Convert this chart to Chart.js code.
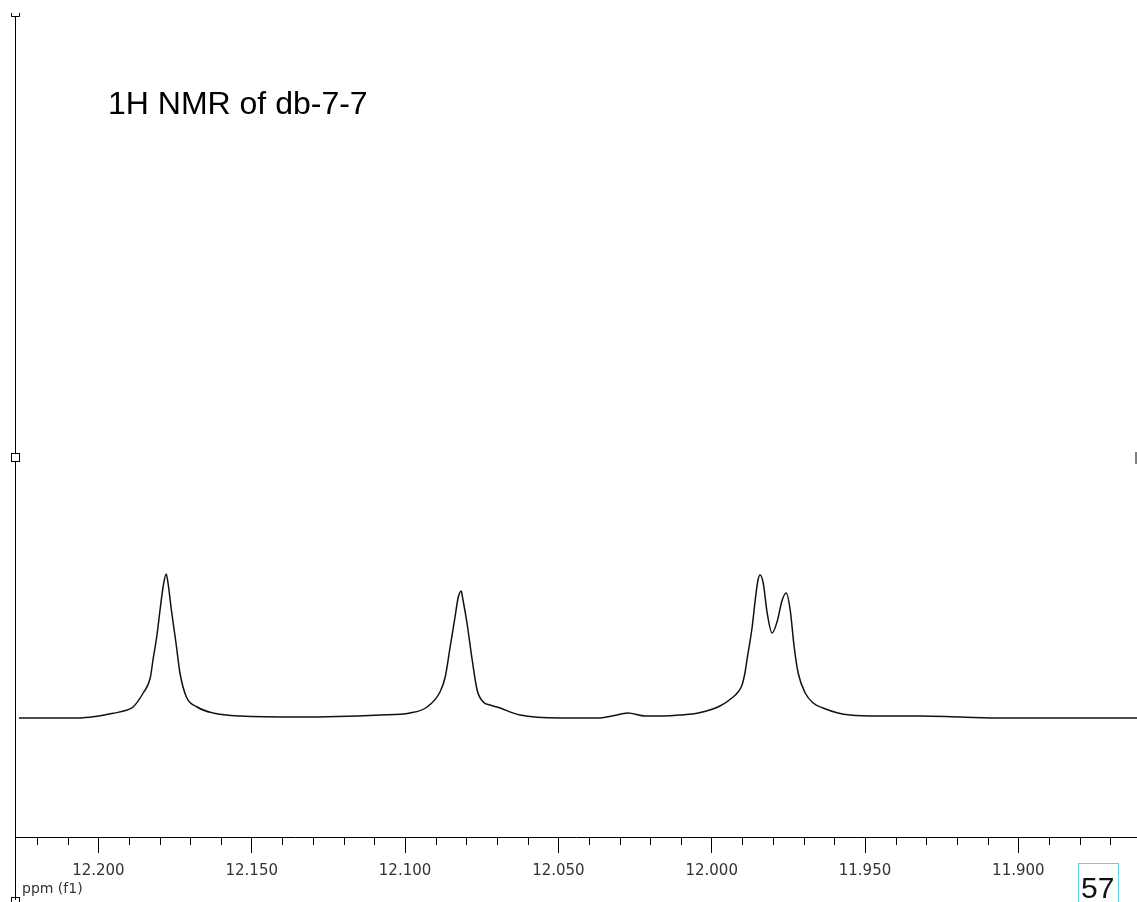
<!DOCTYPE html>
<html lang="en">
<head>
<meta charset="UTF-8">
<title>1H NMR of db-7-7</title>
<script src="https://cdn.jsdelivr.net/npm/chart.js"></script>
<style>
  html, body { margin: 0; padding: 0; background: #fff; }
  #wrap { position: relative; width: 1137px; height: 902px; overflow: hidden; }
</style>
</head>
<body>
<div id="wrap">
  <canvas id="nmrChart" width="1137" height="902"></canvas>
</div>
<script>
// chemical shift (ppm) left to right
const ppm = [
  12.2259, 12.2066, 12.2011, 12.1952, 12.1906, 12.1887, 12.1854, 12.1831, 12.1822, 12.1809,
  12.1799, 12.1789, 12.1779, 12.1773, 12.1762, 12.1747, 12.1734, 12.1713, 12.1678, 12.1626,
  12.1538, 12.1342, 12.1081, 12.0984, 12.0928, 12.0886, 12.0869, 12.0853, 12.0837, 12.0827,
  12.0817, 12.0811, 12.0798, 12.0781, 12.0765, 12.0745, 12.0723, 12.0700, 12.0625, 12.0494,
  12.0370, 12.0325, 12.0273, 12.0217, 12.0158, 12.0103, 12.0044, 11.9973, 11.9930, 11.9914,
  11.9901, 11.9891, 11.9885, 11.9868, 11.9858, 11.9849, 11.9842, 11.9832, 11.9819, 11.9803,
  11.9787, 11.9770, 11.9757, 11.9744, 11.9731, 11.9718, 11.9695, 11.9669, 11.9637, 11.9588,
  11.9549, 11.9451, 11.9320, 11.9190, 11.9050, 11.8613
];
// intensity (arbitrary units, baseline = 0)
const intensity = [
  0.00, 0.00, 0.015, 0.047, 0.08, 0.11, 0.25, 0.40, 0.58, 0.83,
  1.08, 1.31, 1.44, 1.35, 1.08, 0.75, 0.45, 0.21, 0.11, 0.05,
  0.02, 0.01, 0.03, 0.05, 0.11, 0.26, 0.41, 0.71, 1.01, 1.20,
  1.27, 1.18, 0.95, 0.58, 0.28, 0.16, 0.13, 0.11, 0.03, 0.00,
  0.00, 0.02, 0.05, 0.02, 0.02, 0.03, 0.05, 0.12, 0.21, 0.26,
  0.33, 0.46, 0.58, 0.91, 1.18, 1.38, 1.43, 1.35, 1.05, 0.85,
  0.96, 1.18, 1.25, 1.08, 0.71, 0.45, 0.25, 0.15, 0.10, 0.05,
  0.03, 0.02, 0.02, 0.01, 0.00, 0.00
];
const majorTicks = [12.200, 12.150, 12.100, 12.050, 12.000, 11.950, 11.900];
const minorTicks = [
  12.220, 12.210, 12.190, 12.180, 12.170, 12.160, 12.140, 12.130, 12.120, 12.110,
  12.090, 12.080, 12.070, 12.060, 12.040, 12.030, 12.020, 12.010, 11.990, 11.980,
  11.970, 11.960, 11.940, 11.930, 11.920, 11.910, 11.890, 11.880, 11.870
];
const titleText = '1H NMR of db-7-7';
const axisLabel = 'ppm (f1)';
const pageNo = '57';

const points = ppm.map((v, i) => ({ x: v, y: intensity[i] }));

// frame decorations + minor ticks + texts
const nmrDecor = {
  id: 'nmrDecor',
  afterDraw(chart) {
    const ctx = chart.ctx;
    const xs = chart.scales.x;
    const bottom = chart.chartArea.bottom;
    ctx.save();
    ctx.strokeStyle = '#000';
    ctx.lineWidth = 1;

    // minor ticks
    ctx.beginPath();
    minorTicks.forEach(v => {
      const px = Math.round(xs.getPixelForValue(v)) + 0.5;
      ctx.moveTo(px, bottom);
      ctx.lineTo(px, bottom + 8);
    });
    ctx.stroke();

    // left intensity bar
    const lx = 15.5;
    ctx.beginPath();
    ctx.moveTo(lx, 16);
    ctx.lineTo(lx, 900);
    // top cap
    ctx.moveTo(11.5, 13);
    ctx.lineTo(11.5, 16.5);
    ctx.lineTo(19.5, 16.5);
    ctx.lineTo(19.5, 13);
    ctx.stroke();
    ctx.fillStyle = '#fff';
    ctx.fillRect(11.5, 453.5, 8, 8);
    ctx.strokeRect(11.5, 453.5, 8, 8);
    ctx.strokeRect(11.5, 897.5, 8, 8);

    // right edge marker
    ctx.beginPath();
    ctx.moveTo(1136, 452);
    ctx.lineTo(1136, 464);
    ctx.stroke();

    // title
    ctx.fillStyle = '#000';
    ctx.font = '32px "Liberation Sans", Arial, sans-serif';
    ctx.textBaseline = 'alphabetic';
    ctx.textAlign = 'left';
    ctx.fillText(titleText, 108, 114);

    // axis unit label
    ctx.fillStyle = '#333';
    ctx.font = '14px "DejaVu Sans", sans-serif';
    ctx.fillText(axisLabel, 22, 893);

    // page number box
    ctx.strokeStyle = '#5fd3e6';
    ctx.strokeRect(1078.5, 863.5, 40, 42);
    ctx.fillStyle = '#111';
    ctx.font = '30px "Liberation Sans", Arial, sans-serif';
    ctx.fillText(pageNo, 1081, 898);
    ctx.restore();
  }
};

new Chart(document.getElementById('nmrChart'), {
  type: 'line',
  data: {
    datasets: [{
      data: points,
      borderColor: '#111',
      borderWidth: 1.5,
      pointRadius: 0,
      fill: false,
      cubicInterpolationMode: 'monotone'
    }]
  },
  options: {
    responsive: false,
    animation: false,
    layout: { padding: { left: 15, right: 0, top: 15, bottom: 13 } },
    plugins: {
      legend: { display: false },
      tooltip: { enabled: false },
      title: { display: false }
    },
    scales: {
      x: {
        type: 'linear',
        reverse: true,
        min: 11.8613,
        max: 12.2272,
        afterBuildTicks: scale => {
          scale.ticks = majorTicks.map(v => ({ value: v }));
        },
        ticks: {
          autoSkip: false,
          maxRotation: 0,
          padding: 9,
          color: '#333',
          font: { family: '"DejaVu Sans", sans-serif', size: 15 },
          callback: v => v.toFixed(3)
        },
        grid: {
          drawOnChartArea: false,
          drawTicks: true,
          tickLength: 16,
          tickColor: '#000',
          tickWidth: 1
        },
        border: { display: true, color: '#000', width: 1 }
      },
      y: {
        display: false,
        min: -1.19,
        max: 7.03
      }
    }
  },
  plugins: [nmrDecor]
});
</script>
</body>
</html>
